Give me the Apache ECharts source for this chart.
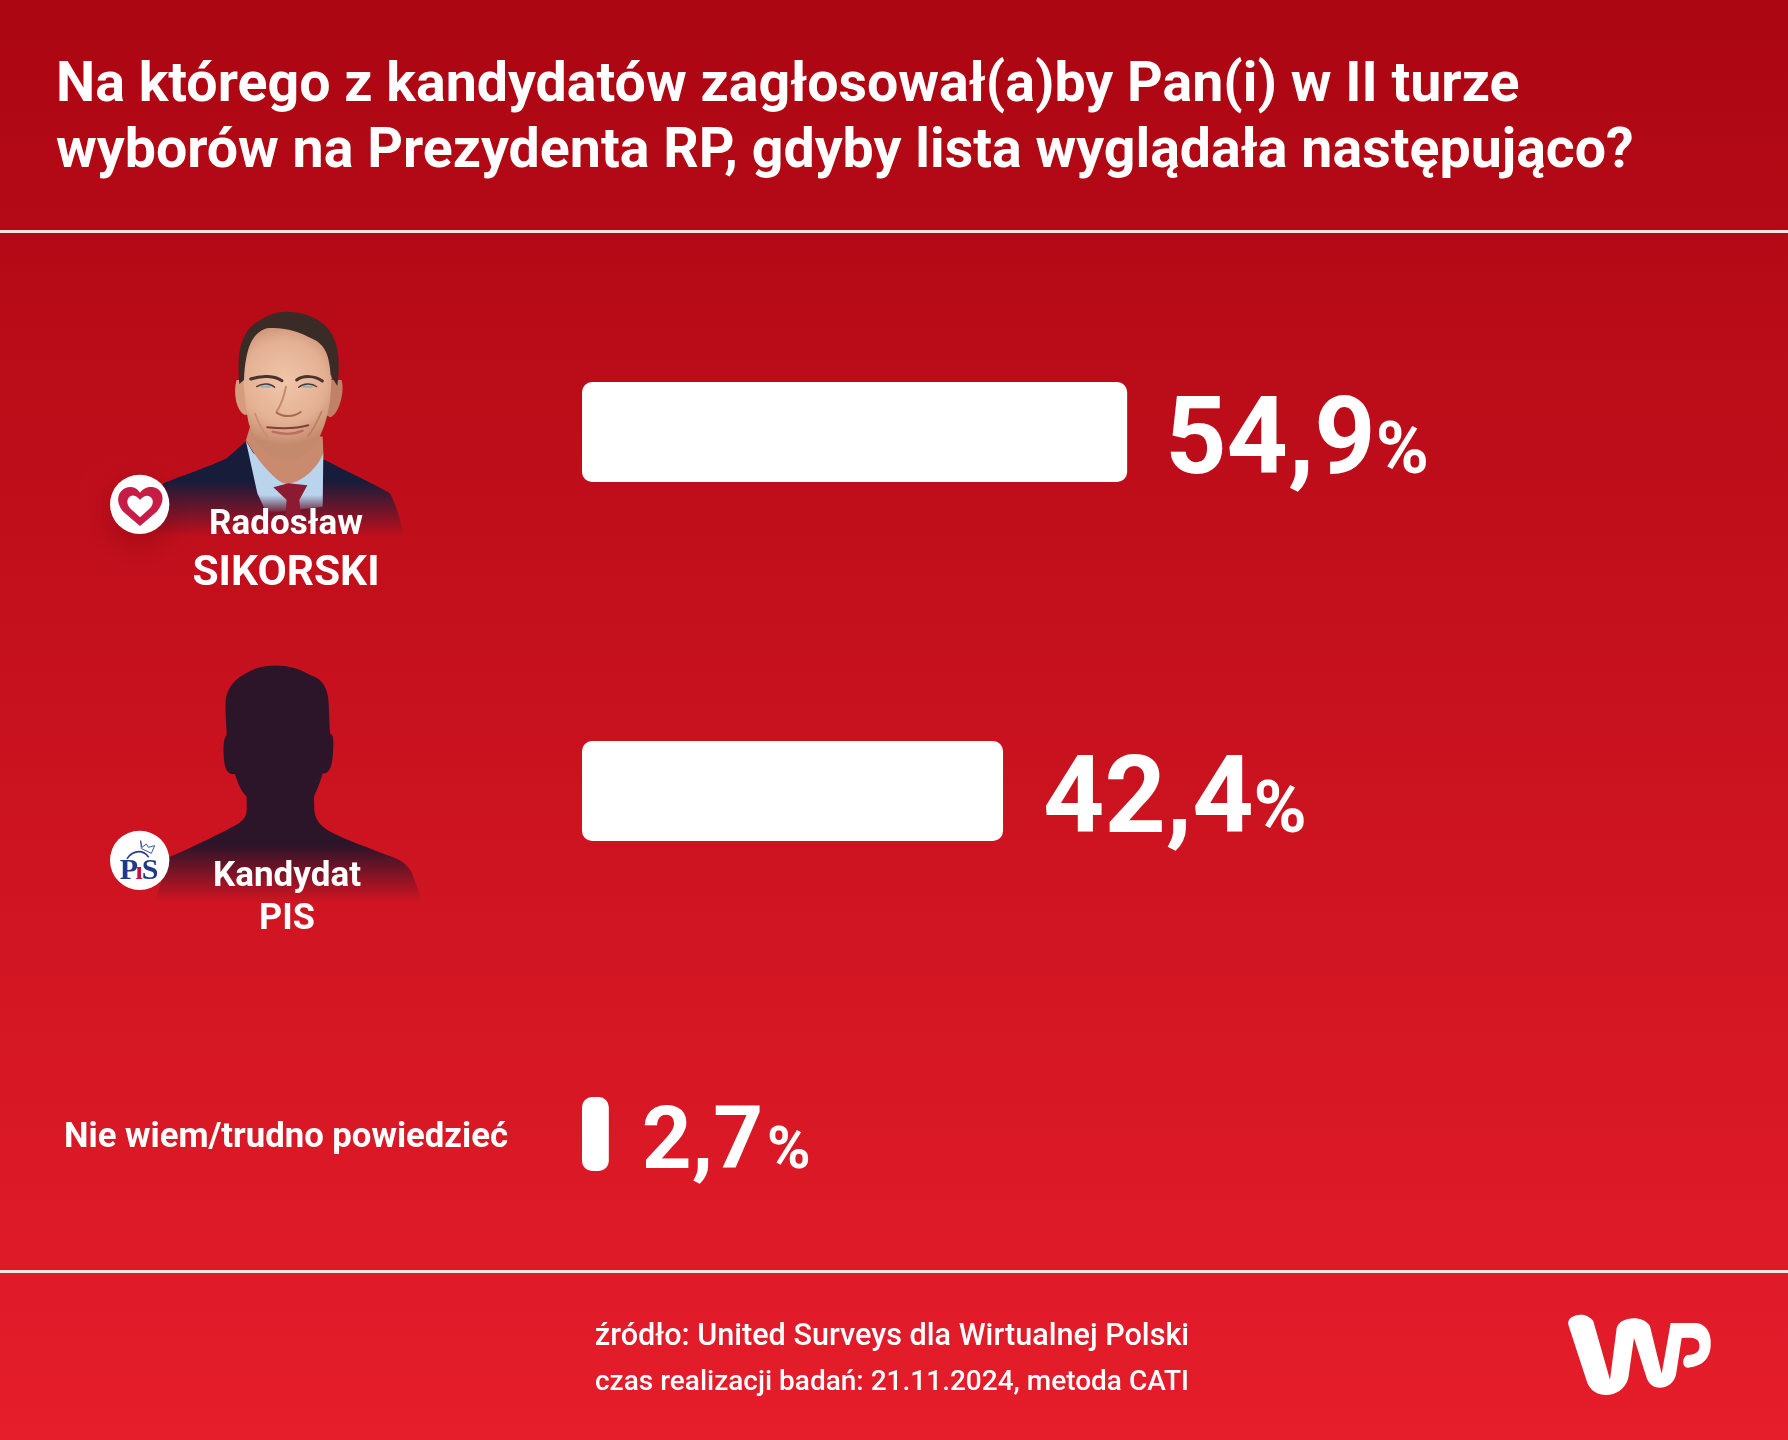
<!DOCTYPE html>
<html>
<head>
<meta charset="utf-8">
<style>
html, body { margin: 0; padding: 0; background: #c40e1a; }
#wykres { width: 1788px; height: 1440px; }
</style>
<script src="https://cdn.jsdelivr.net/npm/echarts@6/dist/echarts.min.js"></script>
</head>
<body>
<div id="wykres"></div>
<script>
// Dane z wykresu
var categories = ['Radosław\nSIKORSKI', 'Kandydat\nPIS', 'Nie wiem/trudno powiedzieć'];
var values = [54.9, 42.4, 2.7];
var titleText = 'Na którego z kandydatów zagłosował(a)by Pan(i) w II turze\nwyborów na Prezydenta RP, gdyby lista wyglądała następująco?';
var sourceLines = ['źródło: United Surveys dla Wirtualnej Polski', 'czas realizacji badań: 21.11.2024, metoda CATI'];

// Układ wierszy (osobne siatki, bo odstępy między słupkami są nierówne)
var rowLayout = [
    { top: 382, height: 100, num: 107, pct: 72, gap: 38, pad: 0 },
    { top: 741, height: 100, num: 107, pct: 72, gap: 40, pad: 0 },
    { top: 1097, height: 74, num: 87, pct: 59, gap: 33, pad: 4 }
];
var font = 'Roboto';

var grids = [], xAxes = [], yAxes = [], series = [];
rowLayout.forEach(function (row, i) {
    grids.push({ left: 582, width: 993, top: row.top, height: row.height });
    xAxes.push({ type: 'value', gridIndex: i, min: 0, max: 100, show: false });
    yAxes.push({ type: 'category', gridIndex: i, data: [categories[i]], show: false });
    series.push({
        type: 'bar',
        xAxisIndex: i,
        yAxisIndex: i,
        data: [values[i]],
        barWidth: row.height,
        silent: true,
        itemStyle: { color: '#ffffff', borderRadius: 10 },
        label: {
            show: true,
            position: 'right',
            distance: row.gap,
            offset: [0, 4],
            formatter: function (p) {
                return '{n|' + String(p.value).replace('.', ',') + '}{p|%}';
            },
            rich: {
                n: { fontFamily: font, fontWeight: 700, fontSize: row.num, color: '#fff', lineHeight: row.num * 1.2, verticalAlign: 'bottom' },
                p: { fontFamily: font, fontWeight: 700, fontSize: row.pct, color: '#fff', padding: [0, 0, row.num * 0.085, row.pad], verticalAlign: 'bottom' }
            }
        }
    });
});

function fade(color, from) {
    // pionowe zanikanie do przezroczystości na dole kształtu
    return {
        type: 'linear', x: 0, y: 0, x2: 0, y2: 1,
        colorStops: [
            { offset: 0, color: 'rgba(' + color + ',1)' },
            { offset: from, color: 'rgba(' + color + ',1)' },
            { offset: 1, color: 'rgba(' + color + ',0)' }
        ]
    };
}

// komponent graphic nie zna typu "path", więc każdy kształt rejestrujemy osobno
var shapeCount = 0;
function shapeType(d) {
    var name = 'rysunek' + (shapeCount++);
    echarts.graphic.registerShape(name, echarts.graphic.extendPath(d));
    return name;
}
function p(d, fill) {
    return { type: shapeType(d), style: { fill: fill } };
}
function stroke(d, color, w) {
    return { type: shapeType(d), style: { fill: 'none', stroke: color, lineWidth: w, lineCap: 'round', lineJoin: 'round' } };
}

var faceFill = {
    type: 'radial', x: 0.46, y: 0.42, r: 0.72,
    colorStops: [
        { offset: 0, color: '#f0c6aa' },
        { offset: 0.65, color: '#e4b093' },
        { offset: 1, color: '#c48a6e' }
    ]
};

// Portret - uproszczony rysunek
var portrait = {
    type: 'group', x: 80, y: 280, scaleX: 1 / 3, scaleY: 1 / 3,
    children: [
        p('M250 610 C310 585 390 560 440 535 L500 482 L735 540 C800 575 880 610 930 640 C950 680 962 720 972 770 L225 770 Z', fade('22,28,58', 0.42)),
        p('M497 480 L520 520 L730 520 L728 680 L560 700 L532 640 Z', fade('185,212,236', 0.75)),
        p('M498 480 C530 540 590 610 620 612 C660 610 710 570 730 520 L728 470 L510 440 Z', '#c98a6e'),
        p('M580 622 L625 610 L682 616 L658 660 L668 770 L610 770 L620 660 Z', fade('140,26,48', 0.6)),
        p('M470 300 C458 340 470 395 495 405 L520 400 L520 300 Z', '#d79c80'),
        p('M785 300 C795 340 775 405 750 412 L730 400 L735 300 Z', '#bf8167'),
        p('M492 240 C490 170 550 130 630 135 C710 140 755 190 755 290 C752 370 745 420 712 485 C680 530 645 545 615 540 C560 535 525 495 505 425 C495 370 487 300 492 240 Z', faceFill),
        p('M478 312 C470 220 480 150 545 118 C590 85 670 88 725 128 C770 160 785 225 772 318 L752 285 C748 225 735 195 700 178 C650 150 600 140 560 145 C515 160 497 205 492 300 Z', '#3b2b26'),
        stroke('M512 297 C545 285 585 287 606 302', '#4c332a', 9),
        stroke('M650 300 C670 285 705 287 727 303', '#4c332a', 9),
        stroke('M530 320 C548 308 572 310 584 322', '#4a3a36', 4),
        stroke('M656 322 C670 310 695 308 710 320', '#4a3a36', 4),
        stroke('M545 320 L570 320', '#8fb0bf', 6),
        stroke('M670 320 L695 320', '#8fb0bf', 6),
        stroke('M618 320 C612 350 600 380 590 395', '#c48a70', 6),
        stroke('M590 398 C610 412 640 412 662 396', '#a9694f', 6),
        stroke('M562 442 C600 446 650 446 685 436', '#7e4038', 6),
        stroke('M578 455 C610 464 645 462 668 452', '#b9705f', 7),
        stroke('M525 400 C535 430 545 450 562 470', '#c98c72', 5),
        stroke('M725 395 C712 425 700 450 684 468', '#bc7f66', 5)
    ]
};

var silhouette = {
    type: 'group', x: 80, y: 640, scaleX: 1 / 3, scaleY: 1 / 3,
    children: [
        p('M225 780 L270 650 C330 625 390 595 440 570 C475 552 500 540 500 510 L500 470 C480 450 470 420 465 402 C445 405 435 390 432 360 C430 330 428 300 440 285 C440 260 435 220 437 180 C445 130 480 105 530 85 C580 70 640 75 690 105 C730 115 745 150 746 190 C748 225 748 255 750 280 C762 285 762 310 758 350 C755 385 745 402 728 400 C720 430 710 450 702 470 L703 510 C705 545 730 565 760 580 C810 605 870 625 920 645 C970 660 990 680 1000 710 C1012 740 1020 765 1025 785 L225 785 Z', fade('44,20,41', 0.76))
    ]
};

var heartBadge = {
    type: 'group', x: 80, y: 280, scaleX: 1 / 3, scaleY: 1 / 3,
    children: [
        { type: 'circle', shape: { cx: 179, cy: 673, r: 89 }, style: { fill: '#fff', shadowBlur: 30, shadowColor: 'rgba(90,0,10,0.3)', shadowOffsetY: 10 } },
        p('M180 738 L130 695 C100 660 118 623 150 621 C165 620 175 630 180 638 C188 628 198 620 215 621 C247 623 262 660 230 695 Z', '#c61c46'),
        p('M180 712 L150 685 C133 665 146 645 162 647 C170 648 177 655 180 660 C185 654 192 648 200 647 C216 647 227 665 210 685 Z', '#fff')
    ]
};

var pisBadge = {
    type: 'group', x: 80, y: 640, scaleX: 1 / 3, scaleY: 1 / 3,
    children: [
        { type: 'circle', shape: { cx: 179, cy: 661, r: 89 }, style: { fill: '#fff' } },
        stroke('M182 603 L186 622 L199 612 L205 622 L224 617 L214 640 L185 626 Z', '#3d5a9e', 3),
        stroke('M142 655 C155 635 185 625 205 650', '#2a3f86', 5)
    ]
};

function textEl(text, x, y, size, weight) {
    return {
        type: 'text', x: x, y: y,
        style: { text: text, fill: '#fff', font: weight + ' ' + size + 'px ' + font, textAlign: 'center', textVerticalAlign: 'middle' }
    };
}

var names0 = categories[0].split('\n');
var names1 = categories[1].split('\n');

var graphics = [
    { type: 'rect', shape: { x: 0, y: 230, width: 1788, height: 3 }, style: { fill: '#f5e4e4' } },
    { type: 'rect', shape: { x: 0, y: 1270, width: 1788, height: 3 }, style: { fill: '#f5e4e4' } },
    portrait, heartBadge, silhouette, pisBadge,
    { type: 'text', x: 129, y: 871, style: { text: 'P', fill: '#1f3a86', font: 'bold 30px "Liberation Serif"', textAlign: 'center', textVerticalAlign: 'middle' } },
    { type: 'text', x: 139, y: 872, style: { text: 'ı', fill: '#c2143f', font: 'bold 26px "Liberation Serif"', textAlign: 'center', textVerticalAlign: 'middle' } },
    { type: 'text', x: 150, y: 871, style: { text: 'S', fill: '#1f3a86', font: 'bold 30px "Liberation Serif"', textAlign: 'center', textVerticalAlign: 'middle' } },
    textEl(names0[0], 286, 525, 35, 700),
    textEl(names0[1], 286, 574, 42.5, 700),
    textEl(names1[0], 287, 877, 35, 700),
    textEl(names1[1], 287, 920, 36, 700),
    textEl(categories[2], 286, 1138, 34.7, 700),
    textEl(sourceLines[0], 892, 1337, 30.6, 500),
    textEl(sourceLines[1], 892, 1383, 28, 500),
    {
        type: 'group', x: 1500, y: 1283, scaleX: 1 / 3, scaleY: 1 / 3,
        children: [
            p('M205 125 C198 98 255 80 280 115 L330 290 L350 135 C360 100 430 95 450 130 L485 272 L512 120 L590 120 C625 125 635 160 632 190 C628 235 600 250 565 254 C545 256 545 222 562 216 C590 214 600 205 598 185 C596 165 580 163 545 165 L528 275 C518 320 455 330 440 285 L402 165 L385 285 C370 345 285 355 262 300 Z', '#fff')
        ]
    }
];

var myChart = echarts.init(document.getElementById('wykres'), null, { renderer: 'canvas' });

var option = {
    animation: false,
    backgroundColor: {
        type: 'linear', x: 0, y: 0, x2: 0, y2: 1,
        colorStops: [
            { offset: 0, color: '#ab0612' },
            { offset: 1, color: '#e61d2b' }
        ]
    },
    title: {
        text: titleText,
        left: 56,
        top: 54,
        padding: 0,
        textStyle: { fontFamily: font, fontWeight: 700, fontSize: 55.5, lineHeight: 66, color: '#fff' }
    },
    grid: grids,
    xAxis: xAxes,
    yAxis: yAxes,
    series: series,
    graphic: graphics
};

myChart.setOption(option);
window.addEventListener('resize', myChart.resize);
</script>
</body>
</html>
